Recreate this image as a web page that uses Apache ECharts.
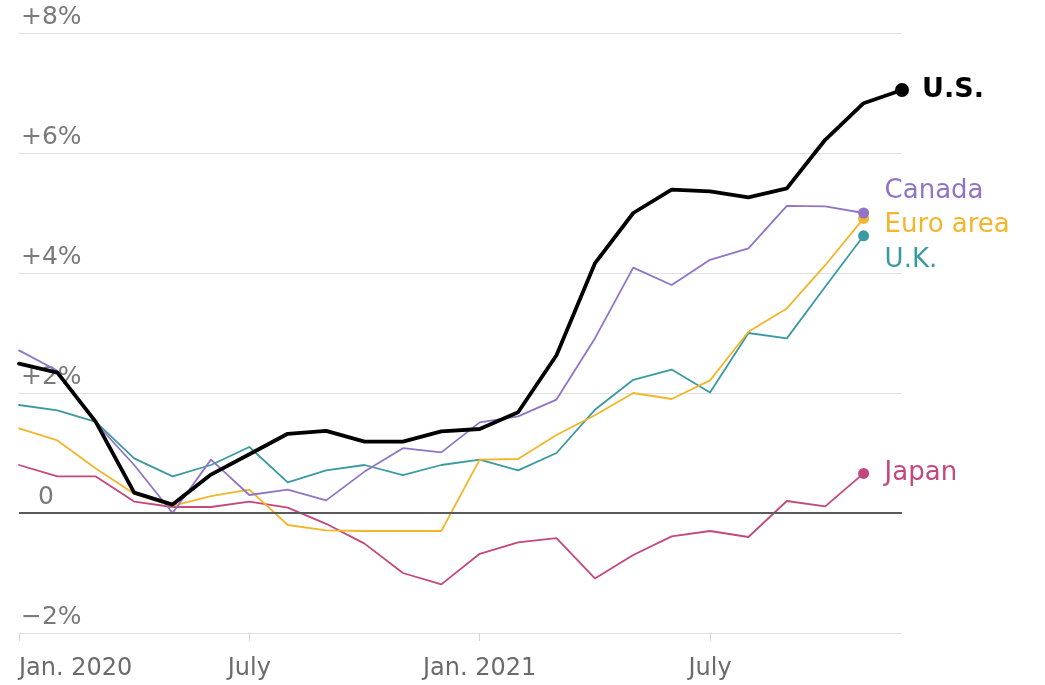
<!DOCTYPE html>
<html>
<head>
<meta charset="utf-8">
<title>Consumer prices, year-over-year change</title>
<script src="https://cdn.jsdelivr.net/npm/echarts@6/dist/echarts.min.js"></script>
<style>
  html, body { margin: 0; padding: 0; background: #ffffff; }
  #chart { width: 1045px; height: 685px; }
</style>
</head>
<body>
<div id="chart"></div>
<script>
// Monthly periods, Jan. 2020 through Dec. 2021
const months = [
  '2020-01','2020-02','2020-03','2020-04','2020-05','2020-06',
  '2020-07','2020-08','2020-09','2020-10','2020-11','2020-12',
  '2021-01','2021-02','2021-03','2021-04','2021-05','2021-06',
  '2021-07','2021-08','2021-09','2021-10','2021-11','2021-12'
];

// Year-over-year change in consumer prices, percent
const usValues = [2.49, 2.34, 1.52, 0.34, 0.14, 0.64, 0.98, 1.32, 1.37, 1.19, 1.19, 1.36,
                  1.40, 1.68, 2.63, 4.16, 5.00, 5.39, 5.36, 5.26, 5.41, 6.22, 6.83, 7.05];
const canadaValues = [2.71, 2.37, 1.50, 0.80, 0.00, 0.89, 0.30, 0.39, 0.21, 0.69, 1.08, 1.01,
                      1.51, 1.61, 1.89, 2.91, 4.09, 3.80, 4.22, 4.41, 5.12, 5.11, 5.00];
const euroValues = [1.41, 1.21, 0.74, 0.32, 0.12, 0.28, 0.39, -0.20, -0.29, -0.30, -0.30, -0.30,
                    0.89, 0.90, 1.30, 1.63, 2.00, 1.90, 2.21, 3.02, 3.41, 4.13, 4.91];
const ukValues = [1.80, 1.71, 1.52, 0.91, 0.61, 0.80, 1.10, 0.51, 0.71, 0.80, 0.63, 0.80,
                  0.89, 0.71, 1.00, 1.72, 2.22, 2.39, 2.01, 3.00, 2.91, 3.77, 4.62];
const japanValues = [0.80, 0.61, 0.61, 0.19, 0.10, 0.10, 0.19, 0.09, -0.18, -0.51, -1.00, -1.19,
                     -0.68, -0.49, -0.42, -1.09, -0.70, -0.39, -0.30, -0.40, 0.20, 0.11, 0.66];

// Axis tick labels
const xTickMonths = ['2020-01', '2020-07', '2021-01', '2021-07'];
const xTickLabels = ['Jan. 2020', 'July', 'Jan. 2021', 'July'];
const yTickValues = [-2, 0, 2, 4, 6, 8];
const yTickLabels = ['\u22122%', '0', '+2%', '+4%', '+6%', '+8%'];

const seriesNames = ['U.S.', 'Canada', 'Euro area', 'U.K.', 'Japan'];

const FONT = '"DejaVu Sans", "Liberation Sans", sans-serif';

function endDot(size, len) {
  return function (val, params) { return params.dataIndex === len - 1 ? size : 0; };
}

function makeSeries(name, values, color, width, dotSize, label) {
  return {
    name: name,
    type: 'line',
    data: values,
    symbol: 'circle',
    showSymbol: true,
    showAllSymbol: true,
    symbolSize: endDot(dotSize, values.length),
    itemStyle: { color: color },
    lineStyle: { color: color, width: width, join: 'round', cap: 'round' },
    emphasis: { disabled: true },
    silent: true,
    z: name === 'U.S.' ? 5 : 3,
    endLabel: Object.assign({
      show: true,
      formatter: '{a}',
      color: color,
      fontFamily: FONT,
      fontSize: 26,
      align: 'left',
      verticalAlign: 'middle',
      distance: 0
    }, label)
  };
}

const chart = echarts.init(document.getElementById('chart'), null, { renderer: 'canvas' });

chart.setOption({
  animation: false,
  backgroundColor: '#ffffff',
  grid: { left: 19, right: 143, top: 33, bottom: 52, containLabel: false },
  xAxis: {
    type: 'category',
    data: months,
    boundaryGap: false,
    axisLine: { show: false, onZero: false },
    axisTick: {
      show: true,
      length: 8,
      interval: function (i, v) { return xTickMonths.indexOf(v) >= 0; },
      lineStyle: { color: '#d6d6d6', width: 1 }
    },
    axisLabel: {
      interval: function (i, v) { return xTickMonths.indexOf(v) >= 0; },
      formatter: function (v) {
        const k = xTickMonths.indexOf(v);
        return k >= 0 ? xTickLabels[k] : '';
      },
      alignMinLabel: 'left',
      color: '#6b6b6b',
      fontFamily: FONT,
      fontSize: 24,
      margin: 24
    },
    splitLine: { show: false }
  },
  yAxis: {
    type: 'value',
    min: -2,
    max: 8,
    interval: 2,
    axisLine: { show: false },
    axisTick: { show: false },
    splitLine: { show: true, lineStyle: { color: '#e1e1e1', width: 1 } },
    axisLabel: {
      inside: true,
      align: 'left',
      verticalAlign: 'bottom',
      margin: 2,
      padding: [0, 0, 3, 0],
      color: '#7a7a7a',
      fontFamily: FONT,
      fontSize: 25,
      formatter: function (v) {
        const k = yTickValues.indexOf(v);
        if (k < 0) return '';
        return v === 0 ? '{z|' + yTickLabels[k] + '}' : yTickLabels[k];
      },
      rich: {
        z: { color: '#7a7a7a', fontFamily: FONT, fontSize: 25, padding: [0, 0, 0, 17] }
      }
    }
  },
  series: [
    {
      // zero baseline
      name: 'baseline',
      type: 'line',
      data: [],
      silent: true,
      z: 1,
      markLine: {
        silent: true,
        symbol: ['none', 'none'],
        label: { show: false },
        lineStyle: { color: '#5a5a5a', width: 2, type: 'solid' },
        data: [{ yAxis: 0 }]
      }
    },
    makeSeries(seriesNames[4], japanValues, '#c4477d', 1.8, 11, { offset: [21, 0] }),
    makeSeries(seriesNames[3], ukValues, '#3a9aa2', 1.8, 11, { offset: [21, 24] }),
    makeSeries(seriesNames[2], euroValues, '#f3b52a', 1.8, 11, { offset: [21, 7] }),
    makeSeries(seriesNames[1], canadaValues, '#9174c6', 1.8, 11, { offset: [21, -22] }),
    makeSeries(seriesNames[0], usValues, '#000000', 3.8, 14, {
      offset: [20, 0], fontWeight: 'bold', fontSize: 27, color: '#000000'
    })
  ]
});
</script>
</body>
</html>
